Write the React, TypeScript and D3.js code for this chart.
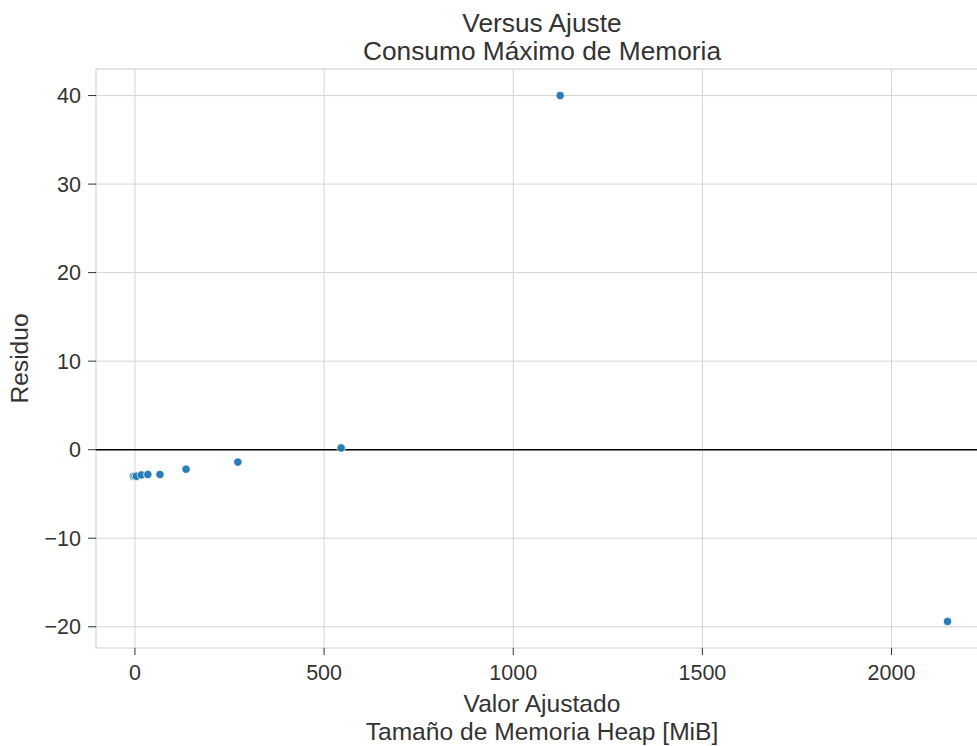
import React from "react";
import * as d3 from "d3";

// Fitted values (MiB) and residuals of the peak-memory model
const fitted = [-4, 0, 4, 17, 34, 66, 135, 272, 545, 1124, 2148];
const residuals = [-3.0, -3.0, -3.0, -2.85, -2.8, -2.8, -2.2, -1.4, 0.2, 40.0, -19.4];
const xTicks = [0, 500, 1000, 1500, 2000];
const yTicks = [-20, -10, 0, 10, 20, 30, 40];

const W = 977;
const H = 746;
const M = { left: 96, top: 69, right: 988, bottom: 648 };
const FONT = "'Liberation Sans', Arial, sans-serif";

export default function App() {
  const x = d3.scaleLinear().domain([-103, 2255]).range([M.left, M.right]);
  const y = d3.scaleLinear().domain([-22.4, 43.0]).range([M.bottom, M.top]);
  const fmt = (v: number) => (v < 0 ? "\u2212" + Math.abs(v) : String(v));
  const grid = "#d4d4d4";
  const txt = "#333333";
  const cx = (M.left + M.right) / 2;

  return (
    <svg
      width={W}
      height={H}
      style={{ position: "absolute", left: 0, top: 0, background: "#fff" }}
      fontFamily={FONT}
    >
      <defs>
        <clipPath id="plot">
          <rect x={M.left} y={M.top} width={M.right - M.left} height={M.bottom - M.top} />
        </clipPath>
      </defs>
      {/* grid */}
      {xTicks.map((t) => (
        <line key={"gx" + t} x1={x(t)} x2={x(t)} y1={M.top} y2={M.bottom} stroke={grid} strokeWidth={1} />
      ))}
      {yTicks.map((t) => (
        <line key={"gy" + t} x1={M.left} x2={M.right} y1={y(t)} y2={y(t)} stroke={grid} strokeWidth={1} />
      ))}
      {/* frame */}
      <rect x={M.left} y={M.top} width={M.right - M.left} height={M.bottom - M.top} fill="none" stroke={grid} strokeWidth={1.2} />
      {/* zero reference */}
      <line x1={M.left} x2={M.right} y1={y(0)} y2={y(0)} stroke="#000" strokeWidth={1.6} />
      {/* points */}
      <g clipPath="url(#plot)">
        {fitted.map((f, i) => (
          <circle key={i} cx={x(f)} cy={y(residuals[i])} r={4.2} fill="#1f77b4" stroke="#fff" strokeWidth={0.8} fillOpacity={0.95} />
        ))}
      </g>
      {/* x ticks */}
      {xTicks.map((t) => (
        <g key={"xt" + t}>
          <line x1={x(t)} x2={x(t)} y1={M.bottom} y2={M.bottom + 7} stroke={txt} strokeWidth={1} />
          <text x={x(t)} y={680} textAnchor="middle" fontSize={21.5} fill={txt}>
            {fmt(t)}
          </text>
        </g>
      ))}
      {/* y ticks */}
      {yTicks.map((t) => (
        <g key={"yt" + t}>
          <line x1={M.left - 8} x2={M.left} y1={y(t)} y2={y(t)} stroke={txt} strokeWidth={1} />
          <text x={M.left - 15} y={y(t)} dy="0.36em" textAnchor="end" fontSize={21.5} fill={txt}>
            {fmt(t)}
          </text>
        </g>
      ))}
      {/* titles */}
      <text x={cx} y={32} textAnchor="middle" fontSize={26.3} fill={txt}>
        Versus Ajuste
      </text>
      <text x={cx} y={60} textAnchor="middle" fontSize={26.3} fill={txt}>
        Consumo Máximo de Memoria
      </text>
      <text x={cx} y={712} textAnchor="middle" fontSize={24.6} fill={txt}>
        Valor Ajustado
      </text>
      <text x={cx} y={740} textAnchor="middle" fontSize={24.6} fill={txt}>
        Tamaño de Memoria Heap [MiB]
      </text>
      <text transform={`translate(28,${(M.top + M.bottom) / 2}) rotate(-90)`} textAnchor="middle" fontSize={24.6} fill={txt}>
        Residuo
      </text>
    </svg>
  );
}
